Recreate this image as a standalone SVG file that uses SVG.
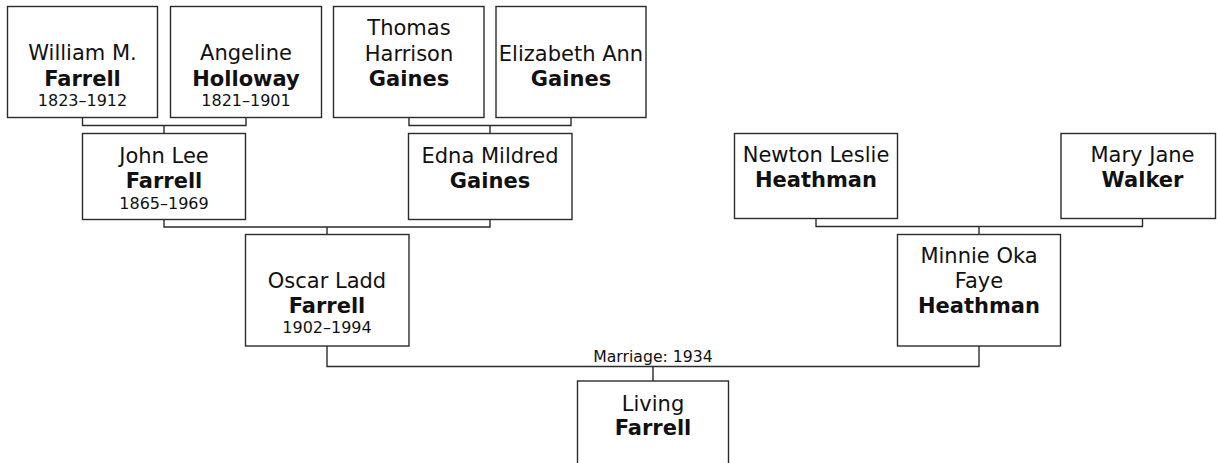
<svg xmlns="http://www.w3.org/2000/svg" width="1217" height="463" viewBox="0 0 1217 463">
<style>
rect{fill:#fff;stroke:#2b2b2b;stroke-width:1.4}
.c path{fill:none;stroke:#2b2b2b;stroke-width:1.4}
text{font-family:"DejaVu Sans",Verdana,sans-serif;fill:#111;text-anchor:middle}
.n{font-size:21px}
.b{font-size:21px;font-weight:bold}
.d{font-size:16px}
.m{font-size:15.7px}
</style>
<rect x="0" y="0" width="1217" height="463" style="stroke:none"/>
<g class="c" id="connectors">
<path d="M82.5 117V125.5H246V117M164 125.5V133"/>
<path d="M409 117V125.5H571V117M490 125.5V133"/>
<path d="M164 219V227H490V219M327 227V234"/>
<path d="M816 219V226.5H1142.5V219M979 226.5V234"/>
<path d="M327 346V366.5H979V346M653 366.5V381"/>
<text class="m" x="653" y="362">Marriage: 1934</text>
</g>
<g id="william"><rect x="7.5" y="6.5" width="150" height="111"/><text class="n" x="82.5" y="60">William M.</text><text class="b" x="82.5" y="86">Farrell</text><text class="d" x="82.5" y="106">1823–1912</text></g>
<g id="angeline"><rect x="170.5" y="6.5" width="151" height="111"/><text class="n" x="246" y="60">Angeline</text><text class="b" x="246" y="86">Holloway</text><text class="d" x="246" y="106">1821–1901</text></g>
<g id="thomas"><rect x="333.5" y="6.5" width="150.5" height="111"/><text class="n" x="409" y="35">Thomas</text><text class="n" x="409" y="61">Harrison</text><text class="b" x="409" y="86">Gaines</text></g>
<g id="elizabeth"><rect x="496" y="6.5" width="150" height="111"/><text class="n" x="571" y="61">Elizabeth Ann</text><text class="b" x="571" y="86">Gaines</text></g>
<g id="johnlee"><rect x="82.5" y="133.5" width="163" height="86"/><text class="n" x="164" y="163">John Lee</text><text class="b" x="164" y="188">Farrell</text><text class="d" x="164" y="209">1865–1969</text></g>
<g id="edna"><rect x="408.5" y="133.5" width="163.5" height="86"/><text class="n" x="490" y="163">Edna Mildred</text><text class="b" x="490" y="188">Gaines</text></g>
<g id="newton"><rect x="734.5" y="133.5" width="163" height="85"/><text class="n" x="816" y="162">Newton Leslie</text><text class="b" x="816" y="187">Heathman</text></g>
<g id="maryjane"><rect x="1061" y="133.5" width="154.5" height="85"/><text class="n" x="1142.5" y="162">Mary Jane</text><text class="b" x="1142.5" y="187">Walker</text></g>
<g id="oscar"><rect x="245.5" y="234.5" width="163.5" height="111.5"/><text class="n" x="327" y="288">Oscar Ladd</text><text class="b" x="327" y="313">Farrell</text><text class="d" x="327" y="333">1902–1994</text></g>
<g id="minnie"><rect x="897.5" y="234.5" width="163" height="111.5"/><text class="n" x="979" y="263">Minnie Oka</text><text class="n" x="979" y="288">Faye</text><text class="b" x="979" y="313">Heathman</text></g>
<g id="living"><rect x="577.5" y="381" width="151" height="100"/><text class="n" x="653" y="411">Living</text><text class="b" x="653" y="435">Farrell</text></g>
</svg>
